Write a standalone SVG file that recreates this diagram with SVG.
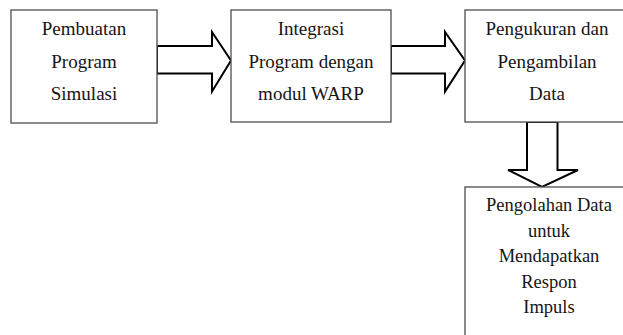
<svg xmlns="http://www.w3.org/2000/svg" width="623" height="335" viewBox="0 0 623 335">
  <style>
    .box { fill: #ffffff; stroke: #4d4d4d; stroke-width: 1.3; }
    .arrow { fill: #ffffff; stroke: #000000; stroke-width: 2; stroke-linejoin: miter; }
    .label { font-family: 'Liberation Serif', 'DejaVu Serif', serif; font-size: 19px; fill: #151515; text-anchor: middle; }
    .small { font-size: 18.5px; }
  </style>
  <rect width="623" height="335" fill="#ffffff"/>

  <g id="connectors">
    <!-- block arrow: Pembuatan -> Integrasi -->
    <polygon class="arrow" points="157,46 212,46 212,32 231,60.5 212,91.5 212,73.5 157,73.5"/>
    <!-- block arrow: Integrasi -> Pengukuran -->
    <polygon class="arrow" points="391,46 445,46 445,32 465,60.5 445,91.5 445,73.5 391,73.5"/>
    <!-- block arrow: Pengukuran -> Pengolahan -->
    <polygon class="arrow" points="527,122 557.5,122 557.5,170 578,170 542,187 508,170 527,170"/>
  </g>

  <g id="node-pembuatan">
    <rect class="box" x="11" y="10" width="146" height="113"/>
    <text class="label" x="84" y="35">Pembuatan</text>
    <text class="label" x="84" y="68">Program</text>
    <text class="label" x="84" y="100">Simulasi</text>
  </g>

  <g id="node-integrasi">
    <rect class="box" x="231" y="10" width="160" height="112"/>
    <text class="label" x="311" y="35">Integrasi</text>
    <text class="label" x="311" y="68">Program dengan</text>
    <text class="label" x="311" y="100">modul WARP</text>
  </g>

  <g id="node-pengukuran">
    <rect class="box" x="465" y="10" width="170" height="112"/>
    <text class="label" x="547" y="35">Pengukuran dan</text>
    <text class="label" x="547" y="68">Pengambilan</text>
    <text class="label" x="547" y="100">Data</text>
  </g>

  <g id="node-pengolahan">
    <rect class="box" x="465" y="187" width="170" height="170"/>
    <text class="label small" x="549" y="211">Pengolahan Data</text>
    <text class="label small" x="549" y="236.5">untuk</text>
    <text class="label small" x="549" y="262">Mendapatkan</text>
    <text class="label small" x="549" y="288">Respon</text>
    <text class="label small" x="549" y="313">Impuls</text>
  </g>
</svg>
